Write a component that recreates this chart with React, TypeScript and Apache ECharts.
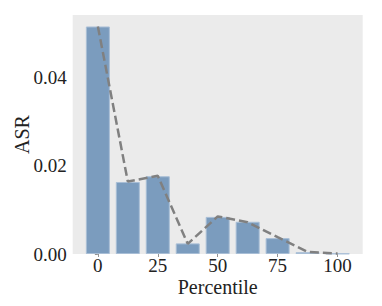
import React, { useEffect, useRef } from "react";
import * as echarts from "echarts";

const percentiles = [0, 12.5, 25, 37.5, 50, 62.5, 75, 87.5, 100];
const barValues = [0.0515, 0.0163, 0.0176, 0.0024, 0.0084, 0.0073, 0.0036, 0.0004, 0.0001];
const lineValues = [0.0515, 0.0164, 0.0177, 0.0023, 0.0085, 0.0072, 0.0038, 0.0005, 0.0001];
const xTicks = [0, 25, 50, 75, 100];
const yTicks = [0, 0.02, 0.04];

export default function App() {
  const ref = useRef<HTMLDivElement>(null);
  useEffect(() => {
    if (!ref.current) return;
    const chart = echarts.init(ref.current, null, { renderer: "svg" });
    const font = "Liberation Serif";
    chart.setOption({
      animation: false,
      backgroundColor: "#ffffff",
      textStyle: { fontFamily: font },
      grid: {
        left: 72.7,
        right: 19.3,
        top: 15,
        bottom: 52,
        show: true,
        backgroundColor: "#ebebeb",
        borderWidth: 0,
        outerBoundsMode: "none",
        containLabel: false,
      },
      xAxis: {
        type: "value",
        min: -10.5,
        max: 110.5,
        name: "Percentile",
        nameLocation: "middle",
        nameGap: 23,
        nameMoveOverlap: false,
        nameTextStyle: { fontFamily: font, fontSize: 20, color: "#222" },
        axisLine: { show: false },
        splitLine: { show: false },
        axisTick: {
          show: true,
          length: 3,
          lineStyle: { color: "#777", width: 0.8 },
          customValues: xTicks,
        },
        axisLabel: {
          customValues: xTicks,
          margin: 2,
          fontFamily: font,
          fontSize: 19,
          color: "#222",
          formatter: (v: number) => String(v),
        },
      },
      yAxis: {
        type: "value",
        min: 0,
        max: 0.0541,
        name: "ASR",
        nameLocation: "middle",
        nameGap: 41,
        nameMoveOverlap: false,
        nameTextStyle: { fontFamily: font, fontSize: 20, color: "#222" },
        axisLine: { show: false },
        splitLine: { show: false },
        axisTick: {
          show: true,
          length: 3,
          lineStyle: { color: "#777", width: 0.8 },
          customValues: yTicks,
        },
        axisLabel: {
          customValues: yTicks,
          margin: 6,
          fontFamily: font,
          fontSize: 19,
          color: "#222",
          formatter: (v: number) => v.toFixed(2),
        },
      },
      series: [
        {
          type: "bar",
          data: percentiles.map((p, i) => [p, barValues[i]]),
          barWidth: 24,
          itemStyle: {
            color: "#7b9cbe",
            borderColor: "#a8bed6",
            borderWidth: 1,
          },
          z: 2,
        },
        {
          type: "line",
          data: percentiles.map((p, i) => [p, lineValues[i]]),
          symbol: "none",
          lineStyle: { color: "#808080", width: 2.5, type: [9, 4] },
          z: 3,
        },
      ],
    });
    return () => chart.dispose();
  }, []);
  return (
    <div
      ref={ref}
      style={{ position: "absolute", left: 0, top: 0, width: 382, height: 306 }}
    />
  );
}
